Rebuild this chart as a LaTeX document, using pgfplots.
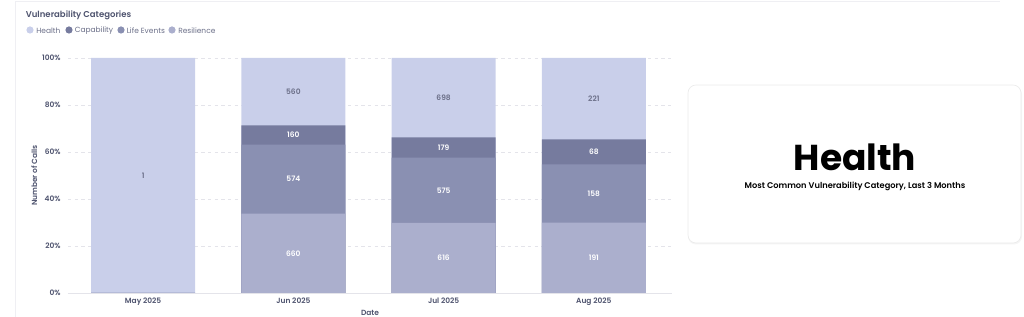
\documentclass[border=0pt]{standalone}
\usepackage{pgfplots}
\pgfplotsset{compat=1.18}
\usepackage{pgfplotstable}
\usepackage{fontspec}
\setmainfont{Poppins}[BoldFont={Poppins SemiBold}]
\newfontfamily\heavy{Poppins}[UprightFont={Poppins Bold}]
\definecolor{cH}{HTML}{C9CFEA}
\definecolor{cC}{HTML}{767B9E}
\definecolor{cL}{HTML}{8A90B2}
\definecolor{cR}{HTML}{ABAFCD}
\definecolor{txt}{HTML}{4E536E}
\definecolor{txtl}{HTML}{6B6F88}
\definecolor{gridc}{HTML}{E4E4EA}
\pgfplotstableread{
x H C L R
0 1 0 0 0
1 560 160 574 660
2 698 179 575 616
3 221 68 158 191
}\data
\newcommand{\T}{(\thisrow{H}+\thisrow{C}+\thisrow{L}+\thisrow{R})}
\begin{document}
\begin{tikzpicture}
\useasboundingbox (0,0) rectangle (768pt,237.75pt);
\begin{scope}[x=0.75pt,y=-0.75pt,yshift=237.75pt]
  \draw[gridc!60, line width=0.5pt] (15,317) -- (15,1) -- (1000,1);
  \node[anchor=west, font=\bfseries\fontsize{6.4}{8}\selectfont, text=txt, inner sep=0pt] at (25.5,15) {Vulnerability Categories};
  \fill[cH] (30,30) circle (3.6);
  \node[anchor=west, font=\fontsize{5.6}{7}\selectfont, text=txtl, inner sep=0pt] at (36,30.3) {Health};
  \fill[cC] (69,30) circle (3.6);
  \node[anchor=west, font=\fontsize{5.6}{7}\selectfont, text=txtl, inner sep=0pt] at (74.5,30.3) {Capability};
  \fill[cL] (121,30) circle (3.6);
  \node[anchor=west, font=\fontsize{5.6}{7}\selectfont, text=txtl, inner sep=0pt] at (126.5,30.3) {Life Events};
  \fill[cR] (172,30) circle (3.6);
  \node[anchor=west, font=\fontsize{5.6}{7}\selectfont, text=txtl, inner sep=0pt] at (178,30.3) {Resilience};
  % card
  \fill[black!4, rounded corners=6] (688,86.5) rectangle (1022,244.5);
  \draw[black!8, fill=white, rounded corners=6, line width=0.5pt] (688,85) rectangle (1021,243);
  \node[font=\heavy\fontsize{27}{30}\selectfont, text=black] at (855,157) {Health};
  \node[font=\bfseries\fontsize{6.2}{7}\selectfont, text=black] at (855,186) {Most Common Vulnerability Category, Last 3 Months};
\end{scope}
\begin{axis}[
  at={(51pt,18pt)}, anchor=south west,
  scale only axis, width=453pt, height=176.25pt,
  xmin=-0.5, xmax=3.52, ymin=0, ymax=100,
  axis x line*=bottom, axis y line*=left,
  x axis line style={draw=gridc, line width=0.6pt, -},
  y axis line style={draw=none},
  major tick length=0pt,
  xtick={0,1,2,3},
  xticklabels={May 2025,Jun 2025,Jul 2025,Aug 2025},
  ytick={0,20,40,60,80,100},
  yticklabels={0\%,20\%,40\%,60\%,80\%,100\%},
  ymajorgrids,
  grid style={draw=gridc, line width=0.5pt, dash pattern=on 2.5pt off 2.5pt},
  tick label style={font=\bfseries\fontsize{5.6}{7}\selectfont, text=txt},
  yticklabel style={xshift=-2pt},
  xticklabel style={yshift=-0.5pt},
  xlabel={Date}, ylabel={Number of Calls},
  label style={font=\bfseries\fontsize{5.6}{7}\selectfont, text=txt},
  x label style={at={(axis description cs:0.5,-0.085)}, anchor=center},
  y label style={at={(axis description cs:-0.056,0.5)}, anchor=center},
  clip=false,
]
\addplot[ybar, bar width=78pt, bar shift=0pt, fill=cH, draw=none]
  table[x=x, y expr={(\thisrow{R}+\thisrow{L}+\thisrow{C}+\thisrow{H})/\T*100}] {\data};
\addplot[ybar, bar width=78pt, bar shift=0pt, fill=cC, draw=none]
  table[x=x, y expr={(\thisrow{R}+\thisrow{L}+\thisrow{C})/\T*100}] {\data};
\addplot[ybar, bar width=78pt, bar shift=0pt, fill=cL, draw=none]
  table[x=x, y expr={(\thisrow{R}+\thisrow{L})/\T*100}] {\data};
\addplot[ybar, bar width=78pt, bar shift=0pt, fill=cR, draw=none]
  table[x=x, y expr={\thisrow{R}/\T*100}] {\data};
% labels
\addplot[draw=none, mark=none, nodes near coords, point meta=explicit symbolic,
  every node near coord/.append style={anchor=center, font=\bfseries\fontsize{5.6}{7}\selectfont, text=txtl}]
  table[x=x, y expr={(\thisrow{R}+\thisrow{L}+\thisrow{C}+\thisrow{H}/2)/\T*100}, meta=H] {\data};
\addplot[draw=none, mark=none, nodes near coords, point meta=explicit symbolic, skip coords between index={0}{1},
  every node near coord/.append style={anchor=center, font=\bfseries\fontsize{5.6}{7}\selectfont, text=white}]
  table[x=x, y expr={(\thisrow{R}+\thisrow{L}+\thisrow{C}/2)/\T*100}, meta=C] {\data};
\addplot[draw=none, mark=none, nodes near coords, point meta=explicit symbolic, skip coords between index={0}{1},
  every node near coord/.append style={anchor=center, font=\bfseries\fontsize{5.6}{7}\selectfont, text=white}]
  table[x=x, y expr={(\thisrow{R}+\thisrow{L}/2)/\T*100}, meta=L] {\data};
\addplot[draw=none, mark=none, nodes near coords, point meta=explicit symbolic, skip coords between index={0}{1},
  every node near coord/.append style={anchor=center, font=\bfseries\fontsize{5.6}{7}\selectfont, text=white}]
  table[x=x, y expr={(\thisrow{R}/2)/\T*100}, meta=R] {\data};
\end{axis}
\end{tikzpicture}
\end{document}
